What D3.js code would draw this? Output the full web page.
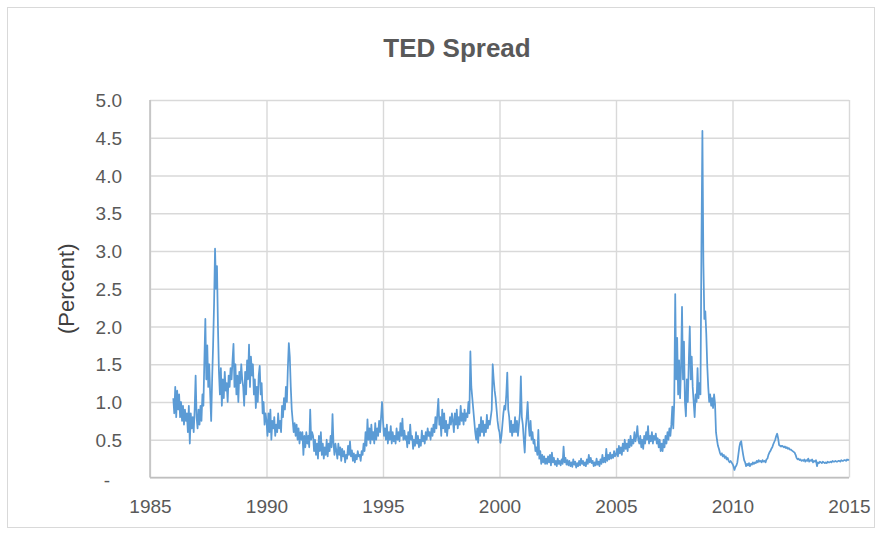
<!DOCTYPE html>
<html>
<head>
<meta charset="utf-8">
<script src="https://cdn.jsdelivr.net/npm/d3@7"></script>
<style>
  html, body { margin: 0; padding: 0; background: #ffffff; }
  svg { display: block; font-family: "Liberation Sans", Arial, sans-serif; }
</style>
</head>
<body>
<svg id="chart" width="882" height="535"></svg>
<script>
// TED spread (3-month LIBOR minus 3-month T-bill), percent.
// Semi-monthly observations, 24 per year, starting January 1986.
const startYear = 1986;
const samplesPerYear = 24;

const ted1980s = [
  // 1986
  1.05, 0.85, 1.2, 0.8, 1.15, 0.9, 1.1, 0.8, 1.0, 0.75, 0.95, 0.7, 0.9, 0.75, 0.85, 0.6, 0.95, 0.45, 0.85, 0.65, 0.8, 0.6, 0.9, 1.35,
  // 1987
  0.8, 0.65, 0.9, 0.7, 0.95, 0.75, 1.1, 0.95, 1.55, 2.1, 1.3, 1.75, 1.2, 1.5, 1.1, 0.75, 1.3, 1.75, 2.3, 3.03, 2.5, 2.8, 2.0, 1.4,
  // 1988
  1.1, 1.45, 0.95, 1.3, 1.05, 1.4, 1.15, 1.25, 1.0, 1.35, 1.2, 1.45, 1.3, 1.55, 1.77, 1.2, 1.5, 1.1, 1.35, 1.0, 1.4, 1.25, 1.5, 1.3,
  // 1989
  1.2, 0.95, 1.4, 1.1, 1.55, 1.3, 1.76, 1.2, 1.6, 1.35, 1.5, 1.1, 1.3, 0.92, 1.2, 1.0, 1.35, 1.48, 1.1, 1.25, 0.85, 1.0, 0.7, 0.85
];

const ted1990s = [
  // 1990
  0.75, 0.55, 0.85, 0.6, 0.9, 0.5, 0.75, 0.65, 0.8, 0.55, 0.7, 0.6, 0.85, 0.65, 0.75, 0.6, 0.95, 0.8, 1.05, 0.9, 1.2, 1.0, 1.45, 1.78,
  // 1991
  1.6, 1.2, 0.9, 0.75, 0.6, 0.72, 0.55, 0.7, 0.5, 0.65, 0.45, 0.6, 0.5, 0.6, 0.3, 0.55, 0.4, 0.6, 0.45, 0.55, 0.4, 0.9, 0.5, 0.6,
  // 1992
  0.55, 0.35, 0.5, 0.3, 0.45, 0.25, 0.55, 0.35, 0.6, 0.3, 0.45, 0.25, 0.4, 0.3, 0.5, 0.28, 0.45, 0.35, 0.55, 0.4, 0.84, 0.45, 0.3, 0.45,
  // 1993
  0.35, 0.25, 0.45, 0.3, 0.4, 0.22, 0.38, 0.28, 0.35, 0.2, 0.3, 0.25, 0.42, 0.3, 0.48, 0.28, 0.36, 0.22, 0.32, 0.2, 0.3, 0.24, 0.35, 0.28,
  // 1994
  0.3, 0.22, 0.35, 0.3, 0.45, 0.35, 0.6, 0.42, 0.77, 0.5, 0.65, 0.45, 0.7, 0.5, 0.6, 0.45, 0.72, 0.5, 0.65, 0.55, 0.75, 0.6, 0.8, 1.0,
  // 1995
  0.75, 0.55, 0.65, 0.5, 0.7, 0.45, 0.6, 0.5, 0.68, 0.45, 0.6, 0.48, 0.55, 0.45, 0.65, 0.5, 0.6, 0.48, 0.72, 0.55, 0.78, 0.5, 0.62, 0.5,
  // 1996
  0.55, 0.4, 0.6, 0.45, 0.7, 0.5, 0.55, 0.38, 0.5, 0.42, 0.6, 0.45, 0.55, 0.4, 0.5, 0.42, 0.62, 0.48, 0.55, 0.45, 0.6, 0.5, 0.65, 0.55,
  // 1997
  0.6, 0.5, 0.65, 0.55, 0.7, 0.6, 0.8, 0.65, 0.85, 1.04, 0.7, 0.8, 0.55, 0.9, 0.65, 0.85, 0.6, 0.75, 0.55, 0.7, 0.65, 0.8, 0.7, 0.85,
  // 1998
  0.75, 0.6, 0.85, 0.7, 0.9, 0.65, 0.8, 0.7, 0.95, 0.75, 0.85, 0.7, 0.9, 0.75, 0.85, 0.8, 1.0, 0.85, 1.67, 1.2, 1.05, 0.9, 0.75, 0.6,
  // 1999
  0.5, 0.65, 0.46, 0.7, 0.55, 0.8, 0.6, 0.75, 0.55, 0.7, 0.6, 0.83, 0.65, 0.75, 0.7, 0.8, 0.9, 1.5, 1.3, 1.15, 1.05, 0.9, 0.75, 0.65
];

const ted2000s = [
  // 2000
  0.6, 0.46, 0.55, 0.7, 0.85, 0.95, 0.9, 1.1, 1.39, 0.9, 0.8, 0.6, 0.75, 0.55, 0.7, 0.6, 0.8, 0.6, 0.75, 0.55, 0.7, 0.85, 1.34, 0.8,
  // 2001
  0.7, 0.5, 0.33, 0.65, 0.8, 1.0, 0.7, 0.55, 0.75, 0.5, 0.6, 0.45, 0.5, 0.35, 0.4, 0.3, 0.63, 0.25, 0.35, 0.18, 0.3, 0.2, 0.28, 0.18,
  // 2002
  0.25, 0.18, 0.28, 0.2, 0.3, 0.16, 0.33, 0.2, 0.26, 0.17, 0.22, 0.15, 0.25, 0.18, 0.22, 0.16, 0.24, 0.18, 0.41, 0.2, 0.26, 0.17, 0.23, 0.16,
  // 2003
  0.22, 0.15, 0.2, 0.14, 0.24, 0.17, 0.21, 0.13, 0.19, 0.15, 0.22, 0.16, 0.25, 0.18, 0.22, 0.16, 0.2, 0.15, 0.24, 0.18, 0.3, 0.2, 0.26, 0.19,
  // 2004
  0.22, 0.15, 0.2, 0.16, 0.25, 0.17, 0.21, 0.15, 0.24, 0.18, 0.3, 0.2, 0.26, 0.2, 0.38, 0.22, 0.3, 0.24, 0.33, 0.25, 0.3, 0.26, 0.35, 0.28,
  // 2005
  0.3, 0.38, 0.28, 0.42, 0.32, 0.4, 0.3, 0.45, 0.35, 0.5, 0.38, 0.45, 0.35, 0.5, 0.4, 0.55, 0.42, 0.5, 0.45, 0.6, 0.48, 0.55, 0.68, 0.5,
  // 2006
  0.45, 0.55, 0.4, 0.5, 0.38, 0.55, 0.45, 0.6, 0.5, 0.68, 0.45, 0.55, 0.48, 0.6, 0.45, 0.55, 0.5, 0.58, 0.45, 0.52, 0.4, 0.5, 0.35, 0.45,
  // 2007
  0.35, 0.5, 0.4, 0.55, 0.45, 0.6, 0.5, 0.65, 0.55, 0.7, 0.94, 0.65, 1.0, 2.43, 1.3, 1.85, 1.1, 1.55, 1.05, 1.45, 2.26, 1.3, 1.8, 1.0,
  // 2008
  0.81, 1.3, 1.0, 1.55, 2.0, 1.3, 1.6, 1.2, 1.0, 0.8, 1.1, 1.0, 1.45, 1.05, 1.25, 1.1, 3.04, 4.59, 2.85, 2.1, 2.2, 1.9, 1.48, 1.2,
  // 2009
  1.0, 1.1, 0.95, 1.05, 0.92, 1.1, 0.98, 0.6, 0.5, 0.42, 0.38, 0.33, 0.3, 0.32, 0.28, 0.3, 0.26, 0.28, 0.24, 0.26, 0.22, 0.2, 0.22, 0.2
];

const ted2010s = [
  // 2010
  0.18, 0.15, 0.1, 0.14, 0.16, 0.2, 0.3, 0.4, 0.46, 0.48, 0.38, 0.3, 0.23, 0.2, 0.15, 0.18, 0.16, 0.19, 0.15, 0.18, 0.17, 0.2, 0.18, 0.2,
  // 2011
  0.19, 0.22, 0.2, 0.23, 0.21, 0.22, 0.2, 0.23, 0.21, 0.22, 0.2, 0.24, 0.25, 0.3, 0.33, 0.35, 0.38, 0.4, 0.44, 0.47, 0.5, 0.55, 0.58, 0.52,
  // 2012
  0.43, 0.42, 0.41, 0.42, 0.41, 0.4, 0.41, 0.39, 0.4, 0.38, 0.39, 0.37, 0.37, 0.36, 0.35, 0.34, 0.33, 0.3, 0.26, 0.24, 0.25, 0.23, 0.24, 0.22,
  // 2013
  0.23, 0.22, 0.24, 0.21, 0.23, 0.22, 0.25, 0.21, 0.23, 0.22, 0.24, 0.2, 0.22, 0.21, 0.23, 0.15, 0.2, 0.19, 0.21, 0.2, 0.19, 0.21, 0.2, 0.19,
  // 2014
  0.2, 0.19, 0.21, 0.2, 0.2, 0.21, 0.2, 0.22, 0.21, 0.21, 0.22, 0.21, 0.21, 0.22, 0.22, 0.21, 0.23, 0.22, 0.22, 0.23, 0.23, 0.22, 0.24, 0.23,
  // 2015 (first observation)
  0.24
];

const yearTicks = [1985, 1990, 1995, 2000, 2005, 2010, 2015];
const percentTicks = [0, 0.5, 1.0, 1.5, 2.0, 2.5, 3.0, 3.5, 4.0, 4.5, 5.0];
const percentTickLabels = ["-", "0.5", "1.0", "1.5", "2.0", "2.5", "3.0", "3.5", "4.0", "4.5", "5.0"];

const tedSeries = [].concat(ted1980s, ted1990s, ted2000s, ted2010s)
  .map((v, i) => ({ t: startYear + i / samplesPerYear, v }));

const svg = d3.select("#chart");
const plot = { left: 150, right: 849, top: 100, bottom: 477.5 };

// Chart area frame
svg.append("rect")
  .attr("x", 7.5).attr("y", 7.5)
  .attr("width", 867).attr("height", 520)
  .attr("fill", "#ffffff")
  .attr("stroke", "#d9d9d9").attr("stroke-width", 1);

const x = d3.scaleLinear().domain([1985, 2015]).range([plot.left, plot.right]);
const y = d3.scaleLinear().domain([0, 5]).range([plot.bottom, plot.top]);

const gridColor = "#d9d9d9";
const labelColor = "#595959";

// Horizontal gridlines + value labels
const yAxis = d3.axisLeft(y)
  .tickValues(percentTicks)
  .tickSize(-(plot.right - plot.left))
  .tickPadding(28)
  .tickFormat((d, i) => percentTickLabels[i]);

const gy = svg.append("g")
  .attr("transform", `translate(${plot.left},0)`)
  .call(yAxis);
gy.select(".domain").remove();
gy.selectAll(".tick line")
  .attr("stroke", gridColor).attr("stroke-width", 1.4);
gy.selectAll(".tick text")
  .attr("fill", labelColor)
  .style("font-size", "19px")
  .attr("dy", "0.35em");
// The zero label is a dash placed further left
gy.selectAll(".tick text")
  .filter(d => d === 0)
  .attr("x", -40)
  .attr("dy", "0.45em");

// Vertical gridlines + year labels
const xAxis = d3.axisBottom(x)
  .tickValues(yearTicks)
  .tickSize(-(plot.bottom - plot.top))
  .tickPadding(22)
  .tickFormat(d3.format("d"));

const gx = svg.append("g")
  .attr("transform", `translate(0,${plot.bottom})`)
  .call(xAxis);
gx.select(".domain").remove();
gx.selectAll(".tick line")
  .attr("stroke", gridColor).attr("stroke-width", 1.4);
gx.selectAll(".tick text")
  .attr("fill", labelColor)
  .style("font-size", "19px");

// Axis lines
svg.append("line")
  .attr("x1", plot.left).attr("x2", plot.left)
  .attr("y1", plot.top).attr("y2", plot.bottom)
  .attr("stroke", "#bfbfbf").attr("stroke-width", 1.5);
svg.append("line")
  .attr("x1", plot.left).attr("x2", plot.right)
  .attr("y1", plot.bottom).attr("y2", plot.bottom)
  .attr("stroke", "#bfbfbf").attr("stroke-width", 1.5);

// Series line
const line = d3.line()
  .x(d => x(d.t))
  .y(d => y(d.v));

svg.append("path")
  .datum(tedSeries)
  .attr("fill", "none")
  .attr("stroke", "#5b9bd5")
  .attr("stroke-width", 1.75)
  .attr("stroke-linejoin", "round")
  .attr("d", line);

// Title
svg.append("text")
  .attr("x", 457).attr("y", 57)
  .attr("text-anchor", "middle")
  .attr("fill", labelColor)
  .style("font-size", "26px")
  .style("font-weight", "bold")
  .text("TED Spread");

// Y axis title
svg.append("text")
  .attr("transform", `translate(74,${(plot.top + plot.bottom) / 2}) rotate(-90)`)
  .attr("text-anchor", "middle")
  .attr("fill", "#404040")
  .style("font-size", "22px")
  .text("(Percent)");
</script>
</body>
</html>
